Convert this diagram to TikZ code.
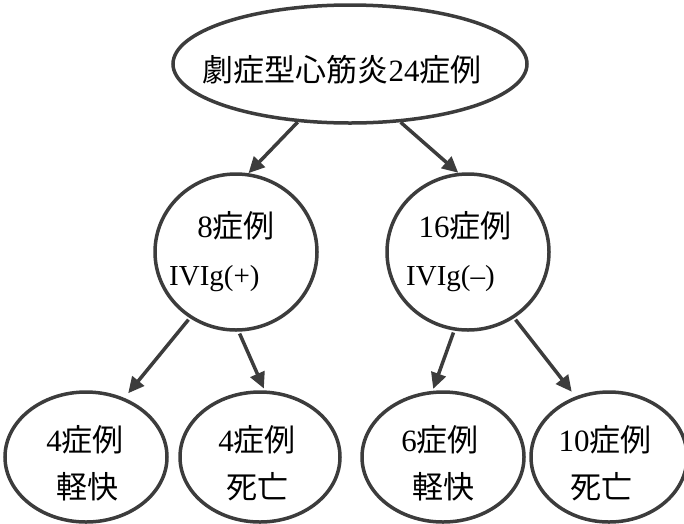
\documentclass[tikz,border=0pt]{standalone}
\usepackage{fontspec}
\setmainfont{Liberation Serif}
\newfontfamily\jp{Noto Sans CJK JP}
\usetikzlibrary{shapes.geometric,arrows.meta}
\definecolor{ink}{HTML}{3C3C3C}
\tikzset{
  oval/.style={ellipse, draw=ink, line width=3.5pt, inner sep=0pt},
  lbl/.style={inner sep=0pt, font=\fontsize{31}{31}\selectfont},
  ivig/.style={inner sep=0pt, anchor=west, font=\fontsize{29}{29}\selectfont},
  arr/.style={draw=ink, line width=3.5pt, -{Triangle[length=16pt,width=15pt,fill=ink]}}
}
\begin{document}
\begin{tikzpicture}[x=1pt,y=-1pt]
\useasboundingbox (0,0) rectangle (684,523);
% shapes
\node[oval, minimum width=354pt, minimum height=118pt] (top) at (350,64) {};
\node[oval, minimum width=162pt, minimum height=156pt] (ml) at (236,252) {};
\node[oval, minimum width=162pt, minimum height=156pt] (mr) at (468,252) {};
\node[oval, minimum width=162pt, minimum height=130pt] (b1) at (86,457) {};
\node[oval, minimum width=160pt, minimum height=130pt] (b2) at (260,457) {};
\node[oval, minimum width=162pt, minimum height=130pt] (b3) at (443,457) {};
\node[oval, minimum width=156pt, minimum height=130pt] (b4) at (609,457) {};
% labels
\node[lbl] (ttop) at (342,70) {{\jp 劇症型心筋炎}24{\jp 症例}};
\node[lbl] (tml) at (236,226) {8{\jp 症例}};
\node[ivig] (iml) at (169,279) {IVIg(+)};
\node[lbl] (tmr) at (465,226) {16{\jp 症例}};
\node[ivig] (imr) at (406,279) {IVIg(--)};
\node[lbl] (t1a) at (85,440) {4{\jp 症例}};
\node[lbl] (t1b) at (87,487) {\jp 軽快};
\node[lbl] (t2a) at (257,440) {4{\jp 症例}};
\node[lbl] (t2b) at (257,487) {\jp 死亡};
\node[lbl] (t3a) at (440,440) {6{\jp 症例}};
\node[lbl] (t3b) at (443,487) {\jp 軽快};
\node[lbl] (t4a) at (605,440) {10{\jp 症例}};
\node[lbl] (t4b) at (601,487) {\jp 死亡};
% connectors
\draw[arr] (top.228) -- (ml.81);
\draw[arr] (top.311) -- (mr.97);
\draw[arr, shorten <=2pt, shorten >=6pt] (ml.235) -- (b1.57);
\draw[arr, shorten <=2pt, shorten >=2pt] (ml.272) -- (b2.86);
\draw[arr, shorten <=2pt, shorten >=2pt] (mr.260) -- (b3.99);
\draw[arr, shorten <=2pt, shorten >=6pt] (mr.305) -- (b4.119);
\end{tikzpicture}
\end{document}
